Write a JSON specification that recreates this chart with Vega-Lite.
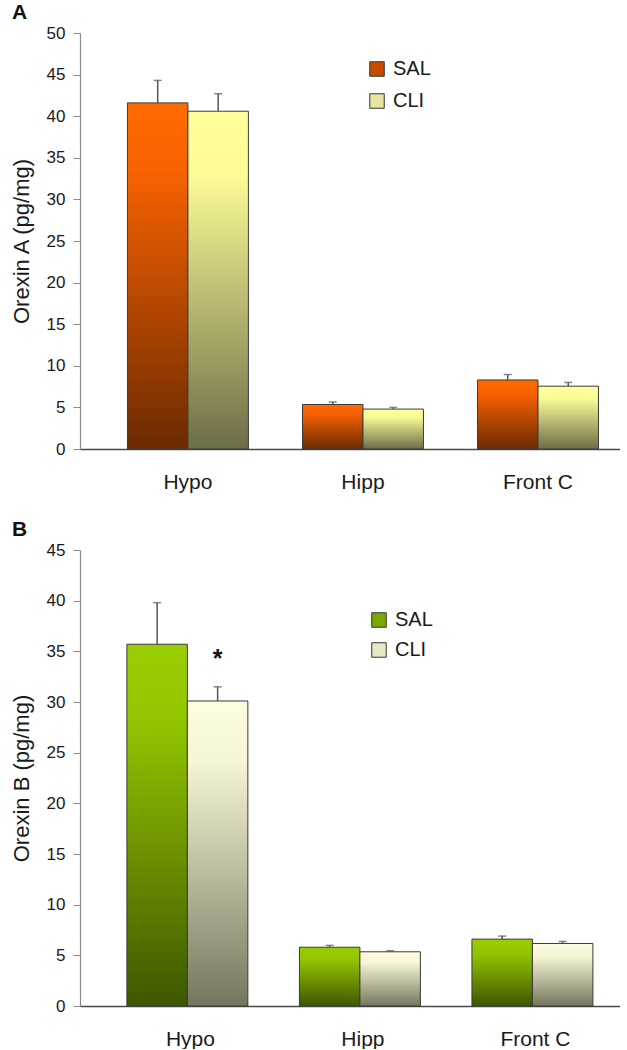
{
  "$schema": "https://vega.github.io/schema/vega-lite/v6.json",
  "padding": {"left": 10, "top": 2, "right": 0, "bottom": 0},
  "spacing": 27,
  "config": {
    "view": {"stroke": null},
    "font": "Liberation Sans",
    "axisY": {"domainColor": "#8a8a8a", "domainWidth": 1.2, "tickColor": "#8a8a8a", "tickSize": 7, "labelFontSize": 17, "labelColor": "#1a1a1a", "labelPadding": 8, "titleFontSize": 22, "titleFontWeight": "normal", "titleColor": "#1a1a1a", "titlePadding": 13, "grid": false},
    "axisX": {"domainColor": "#4a4a4a", "domainWidth": 1.5, "ticks": false, "labelAngle": 0, "labelFontSize": 21, "labelColor": "#1a1a1a", "labelPadding": 22, "title": null, "grid": false},
    "legend": {"symbolType": "square", "symbolSize": 210, "labelFontSize": 20, "labelColor": "#1a1a1a", "labelOffset": 6, "symbolStrokeColor": "#333333", "symbolStrokeWidth": 1, "symbolOpacity": 1, "title": null},
    "title": {"fontSize": 21, "fontWeight": "bold", "color": "#111111", "anchor": "start", "frame": "bounds"}
  },
  "datasets": {
    "a": [
      {"region": "Hypo", "group": "SAL", "value": 41.6, "err": 44.3},
      {"region": "Hypo", "group": "CLI", "value": 40.6, "err": 42.7},
      {"region": "Hipp", "group": "SAL", "value": 5.35, "err": 5.65},
      {"region": "Hipp", "group": "CLI", "value": 4.8, "err": 5.0},
      {"region": "Front C", "group": "SAL", "value": 8.3, "err": 8.95},
      {"region": "Front C", "group": "CLI", "value": 7.55, "err": 8.0}
    ],
    "b": [
      {"region": "Hypo", "group": "SAL", "value": 35.7, "err": 39.8, "sig": ""},
      {"region": "Hypo", "group": "CLI", "value": 30.1, "err": 31.5, "sig": "*"},
      {"region": "Hipp", "group": "SAL", "value": 5.8, "err": 5.98, "sig": ""},
      {"region": "Hipp", "group": "CLI", "value": 5.35, "err": 5.45, "sig": ""},
      {"region": "Front C", "group": "SAL", "value": 6.6, "err": 6.9, "sig": ""},
      {"region": "Front C", "group": "CLI", "value": 6.17, "err": 6.37, "sig": ""}
    ]
  },
  "vconcat": [
    {
      "title": {"text": "A", "offset": 1, "dx": 2},
      "width": 540,
      "height": 416,
      "data": {"name": "a"},
      "encoding": {
        "x": {"field": "region", "type": "nominal", "sort": ["Hypo", "Hipp", "Front C"], "scale": {"paddingInner": 0.309, "paddingOuter": 0.197, "align": 0.688}},
        "xOffset": {"field": "group", "type": "nominal", "scale": {"domain": ["SAL", "CLI"], "paddingInner": 0, "paddingOuter": 0}},
        "y": {"field": "value", "type": "quantitative", "scale": {"domain": [0, 50], "nice": false}, "axis": {"values": [0, 5, 10, 15, 20, 25, 30, 35, 40, 45, 50], "title": "Orexin A (pg/mg)"}}
      },
      "layer": [
        {
          "transform": [{"filter": "datum.group === 'SAL'"}],
          "mark": {"type": "bar", "stroke": "#3a3a3a", "strokeWidth": 1, "color": {"gradient": "linear", "x1": 0, "y1": 0, "x2": 0, "y2": 1, "stops": [{"offset": 0, "color": "#ff6a00"}, {"offset": 0.2, "color": "#f86200"}, {"offset": 1, "color": "#6b2a00"}]}}
        },
        {
          "transform": [{"filter": "datum.group === 'CLI'"}],
          "mark": {"type": "bar", "stroke": "#3a3a3a", "strokeWidth": 1, "color": {"gradient": "linear", "x1": 0, "y1": 0, "x2": 0, "y2": 1, "stops": [{"offset": 0, "color": "#ffff9c"}, {"offset": 0.2, "color": "#fafa96"}, {"offset": 1, "color": "#6d6d48"}]}}
        },
        {
          "mark": {"type": "rule", "color": "#555555", "strokeWidth": 1.5},
          "encoding": {"y2": {"field": "err"}}
        },
        {
          "mark": {"type": "tick", "color": "#555555", "size": 8, "thickness": 1.5},
          "encoding": {"y": {"field": "err", "type": "quantitative"}}
        },
        {
          "mark": {"type": "square", "filled": true, "opacity": 0},
          "encoding": {
            "color": {"field": "group", "type": "nominal", "scale": {"domain": ["SAL", "CLI"], "range": ["#c84c00", "#e6e6a0"]},
              "legend": {"orient": "none", "legendX": 287, "legendY": 26, "rowPadding": 12,
                "encode": {"symbols": {"update": {"opacity": {"value": 1}, "stroke": {"value": "#333333"}, "strokeWidth": {"value": 1}, "fill": [{"test": "datum.value === 'SAL'", "value": {"gradient": "linear", "x1": 0, "y1": 0, "x2": 0, "y2": 1, "stops": [{"offset": 0, "color": "#ff6a00"}, {"offset": 1, "color": "#8a3400"}]}}, {"value": {"gradient": "linear", "x1": 0, "y1": 0, "x2": 0, "y2": 1, "stops": [{"offset": 0, "color": "#ffffa8"}, {"offset": 1, "color": "#8e8e60"}]}}]}}}}}
          }
        }
      ]
    },
    {
      "title": {"text": "B", "offset": 1, "dx": 2},
      "width": 540,
      "height": 456,
      "data": {"name": "b"},
      "encoding": {
        "x": {"field": "region", "type": "nominal", "sort": ["Hypo", "Hipp", "Front C"], "scale": {"paddingInner": 0.264, "paddingOuter": 0.197, "align": 0.69}},
        "xOffset": {"field": "group", "type": "nominal", "scale": {"domain": ["SAL", "CLI"], "paddingInner": 0, "paddingOuter": 0}},
        "y": {"field": "value", "type": "quantitative", "scale": {"domain": [0, 45], "nice": false}, "axis": {"values": [0, 5, 10, 15, 20, 25, 30, 35, 40, 45], "title": "Orexin B (pg/mg)"}}
      },
      "layer": [
        {
          "transform": [{"filter": "datum.group === 'SAL'"}],
          "mark": {"type": "bar", "stroke": "#3a3a3a", "strokeWidth": 1, "color": {"gradient": "linear", "x1": 0, "y1": 0, "x2": 0, "y2": 1, "stops": [{"offset": 0, "color": "#9acd00"}, {"offset": 0.2, "color": "#94c600"}, {"offset": 1, "color": "#3e5700"}]}}
        },
        {
          "transform": [{"filter": "datum.group === 'CLI'"}],
          "mark": {"type": "bar", "stroke": "#3a3a3a", "strokeWidth": 1, "color": {"gradient": "linear", "x1": 0, "y1": 0, "x2": 0, "y2": 1, "stops": [{"offset": 0, "color": "#fdfde0"}, {"offset": 0.2, "color": "#f6f6d4"}, {"offset": 1, "color": "#76765f"}]}}
        },
        {
          "mark": {"type": "rule", "color": "#555555", "strokeWidth": 1.5},
          "encoding": {"y2": {"field": "err"}}
        },
        {
          "mark": {"type": "tick", "color": "#555555", "size": 8, "thickness": 1.5},
          "encoding": {"y": {"field": "err", "type": "quantitative"}}
        },
        {
          "transform": [{"filter": "datum.sig !== ''"}],
          "mark": {"type": "text", "fontSize": 25, "fontWeight": "bold", "color": "#111111", "baseline": "middle", "dy": -28},
          "encoding": {"y": {"field": "err", "type": "quantitative"}, "text": {"field": "sig"}}
        },
        {
          "mark": {"type": "square", "filled": true, "opacity": 0},
          "encoding": {
            "color": {"field": "group", "type": "nominal", "scale": {"domain": ["SAL", "CLI"], "range": ["#7aa800", "#e8e8c8"]},
              "legend": {"orient": "none", "legendX": 289, "legendY": 60, "rowPadding": 10,
                "encode": {"symbols": {"update": {"opacity": {"value": 1}, "stroke": {"value": "#333333"}, "strokeWidth": {"value": 1}, "fill": [{"test": "datum.value === 'SAL'", "value": {"gradient": "linear", "x1": 0, "y1": 0, "x2": 0, "y2": 1, "stops": [{"offset": 0, "color": "#9acd00"}, {"offset": 1, "color": "#4a6a00"}]}}, {"value": {"gradient": "linear", "x1": 0, "y1": 0, "x2": 0, "y2": 1, "stops": [{"offset": 0, "color": "#fdfde0"}, {"offset": 1, "color": "#9a9a80"}]}}]}}}}}
          }
        }
      ]
    }
  ],
  "resolve": {"scale": {"color": "independent"}, "legend": {"color": "independent"}}
}
